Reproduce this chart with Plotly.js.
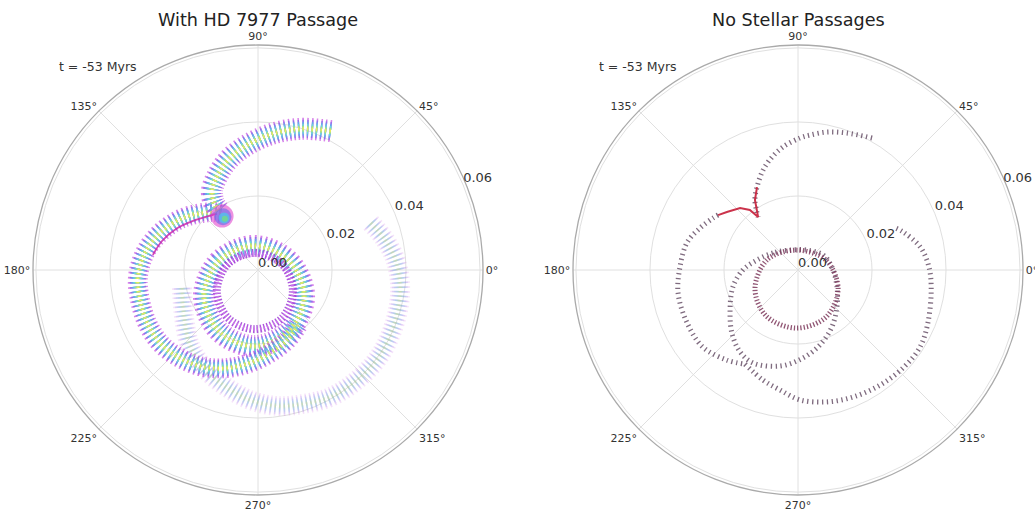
<!DOCTYPE html>
<html>
<head>
<meta charset="utf-8">
<script src="https://cdn.plot.ly/plotly-3.0.1.min.js"></script>
<style>html,body{margin:0;padding:0;background:#fff;}#chart{width:1035px;height:510px;}</style>
</head>
<body>
<div id="chart"></div>
<script>
// ---------- DATA ----------
const panelTitles = ['With HD 7977 Passage', 'No Stellar Passages'];
const timeLabel = 't = -53 Myrs';
const radialTicks = [0, 0.02, 0.04, 0.06];
const radialTickText = ['0.00', '0.02', '0.04', '0.06'];
const angularTicks = [0, 45, 90, 135, 180, 225, 270, 315];
const angularTickText = ['0°', '45°', '90°', '135°', '180°', '225°', '270°', '315°'];

// Left panel (with HD 7977 passage) – centre lines of the rainbow tracks
const rTopArcL  = [0.0424,0.0398,0.0370,0.0339,0.0312,0.0283,0.0249,0.0217,0.0184];
const thTopArcL = [62.3,73.4,84.1,95.0,104.0,111.9,119.9,123.3,123.0];
const rLoopL  = [0.0184,0.0203,0.0247,0.0283,0.0309,0.0325,0.0329,0.0332,0.0330,0.0318,0.0301,0.0278,0.0252,0.0227,0.0205,0.0184];
const thLoopL = [123.0,129.6,145.3,159.3,171.4,183.3,194.3,205.5,216.7,228.4,240.4,252.4,265.1,278.2,292.5,306.0];
const rFaintL  = [0.0211,0.0238,0.0274,0.0302,0.0326,0.0352,0.0371,0.0382,0.0395,0.0400,0.0402,0.0396,0.0388,0.0374,0.0353,0.0329];
const thFaintL = [193.3,213.0,227.8,241.1,254.1,266.5,278.0,288.6,299.6,312.0,325.1,339.2,352.0,363.3,373.3,383.2];
const rMidL  = [0.0066,0.0108,0.0162,0.0196,0.0206,0.0185,0.0143,0.0087,0.0066];
const thMidL = [99.5,167.0,205.7,237.4,267.0,296.9,330.5,376.2,459.5];
const rInL  = [0.0047,0.0083,0.0125,0.0153,0.0160,0.0145,0.0110,0.0067,0.0047];
const thInL = [100.0,168.7,207.1,238.0,267.1,296.6,329.0,374.0,460.0];
const rEdgeL  = [0.0188,0.0217,0.0248,0.0271,0.0287];
const thEdgeL = [126.2,141.6,153.4,163.2,171.9];
const rBlobL  = [0.0175,0.0172,0.0168,0.0165];
const thBlobL = [123.7,123.4,123.1,122.9];

// Right panel (no stellar passages)
const rTopArcR  = [0.0409,0.0393,0.0381,0.0366,0.0357,0.0335,0.0313,0.0286,0.0250,0.0222,0.0179];
const thTopArcR = [60.7,70.3,78.1,84.9,89.1,96.95,102.96,109.3,116.3,121.6,127.0];
const rLoopR  = [0.0262,0.0269,0.0288,0.0309,0.0319,0.0330,0.0332,0.0331,0.0310,0.0292];
const thLoopR = [145.5,148.5,156.8,166.3,178.5,190.9,205.5,219.0,231.7,240.6];
const rRedR  = [0.0250,0.0222,0.0179,0.0208,0.0229,0.0248,0.0262];
const thRedR = [116.3,121.6,127.0,128.7,133.1,140.8,145.5];
const rOuterR  = [0.0292,0.0312,0.0328,0.0351,0.0365,0.0374,0.0382,0.0388,0.0390,0.0379,0.0364,0.0354,0.0336,0.0302,0.0282];
const thOuterR = [240.6,252.3,261.5,270.9,282.4,293.4,305.5,317.0,327.7,337.8,351.4,361.3,370.7,379.9,384.4];
const rMidR  = [0.0058,0.0082,0.0114,0.0149,0.0182,0.0213,0.0247,0.0271,0.0279,0.0264,0.0238,0.0211,0.0179,0.0145,0.0115,0.0092,0.0079,0.0060,0.0058];
const thMidR = [111.8,145.8,166.3,180,194.7,210.5,223.7,234.7,244.2,259.4,273.3,286.3,300.8,316.5,336.4,365.0,391.0,423.4,471.8];
const rInR  = [0.0054,0.0088,0.0127,0.0151,0.0157,0.0148,0.0120,0.0080,0.0054];
const thInR = [95.7,162.1,203.8,235.2,268.0,300.8,334.6,379.7,455.7];

// ---------- STYLE ----------
const FONT = 'DejaVu Sans, Liberation Sans, sans-serif';
const RADIAL_LABEL_ANGLE = 22.5;
const rainbow = [
  {w:22, c:'rgba(200,80,225,0.75)'},
  {w:18, c:'rgba(120,110,235,0.75)'},
  {w:14, c:'rgba(90,185,240,0.8)'},
  {w:10, c:'rgba(110,228,210,0.85)'},
  {w:6,  c:'rgba(180,236,110,0.9)'},
  {w:3,  c:'rgba(240,234,90,0.95)'}
];
const traces = [];
function band(r, th, subplot, scale, opacity, dash) {
  rainbow.forEach(l => {
    traces.push({type:'scatterpolar', subplot, r, theta:th, mode:'lines',
      line:{shape:'spline', smoothing:1, width:l.w*scale, color:l.c, dash},
      opacity, hoverinfo:'skip', showlegend:false});
  });
}
function track(r, th, subplot, width, color, dash, shape) {
  traces.push({type:'scatterpolar', subplot, r, theta:th, mode:'lines',
    line:{shape:shape||'spline', smoothing:1, width, color, dash},
    hoverinfo:'skip', showlegend:false});
}
function radialLabels(subplot) {
  traces.push({type:'scatterpolar', subplot, r:radialTicks,
    theta:radialTicks.map(() => RADIAL_LABEL_ANGLE), mode:'text', text:radialTickText,
    textposition:'top right', textfont:{family:FONT, size:13, color:'#333'},
    hoverinfo:'skip', showlegend:false, cliponaxis:false});
}

// Left panel
const dL = '1.5px,3px';
band(rFaintL, thFaintL, 'polar', 0.9, 0.22, dL);
band(rMidL, thMidL, 'polar', 1.0, 0.95, dL);
track(rInL, thInL, 'polar', 8, 'rgba(160,60,215,0.85)', '1.5px,2px');
track(rInL, thInL, 'polar', 3, 'rgba(205,120,235,0.85)', '1.5px,2px');
band(rLoopL, thLoopL, 'polar', 0.9, 0.95, dL);
band(rTopArcL, thTopArcL, 'polar', 1.0, 0.95, dL);
track(rEdgeL, thEdgeL, 'polar', 1.8, 'rgba(205,40,170,0.85)', 'solid');
traces.push({type:'scatterpolar', subplot:'polar', r:rBlobL, theta:thBlobL, mode:'markers',
  marker:{size:[23,17,11,6], color:['rgba(225,70,205,0.85)','rgba(110,110,235,0.9)','rgba(70,205,235,1)','rgba(120,225,120,1)'], line:{width:0}},
  hoverinfo:'skip', showlegend:false});
radialLabels('polar');

// Right panel
const dark = 'rgba(95,70,95,0.8)';
const dR = '1.3px,3.6px';
track(rOuterR, thOuterR, 'polar2', 5, dark, dR);
track(rMidR, thMidR, 'polar2', 5, dark, dR);
track(rInR, thInR, 'polar2', 5, 'rgba(125,55,90,0.85)', '1.3px,2px');
track(rLoopR, thLoopR, 'polar2', 5, dark, dR);
track(rTopArcR, thTopArcR, 'polar2', 5, dark, dR);
track(rRedR, thRedR, 'polar2', 2, 'rgba(200,40,65,0.95)', 'solid', 'linear');
radialLabels('polar2');

function polarLayout(dx) {
  return {
    domain:{x:dx, y:[15/510, 465/510]},
    bgcolor:'rgba(0,0,0,0)',
    radialaxis:{range:[0,0.0608], tickmode:'array', tickvals:radialTicks,
      showticklabels:false, showline:false, ticks:'', gridcolor:'#e0e0e0', gridwidth:1,
      layer:'below traces'},
    angularaxis:{tickmode:'array', tickvals:angularTicks, ticktext:angularTickText,
      direction:'counterclockwise', rotation:0, showline:true, linecolor:'#aaaaaa', linewidth:1.3,
      gridcolor:'#e0e0e0', gridwidth:1, ticks:'', tickfont:{family:FONT, size:11, color:'#333'}, layer:'below traces'}
  };
}

const layout = {
  width:1035, height:510, margin:{l:0,r:0,t:0,b:0},
  paper_bgcolor:'#fff', showlegend:false,
  polar: polarLayout([33/1035, 483/1035]),
  polar2: polarLayout([573/1035, 1023/1035]),
  annotations:[
    {text:panelTitles[0], x:258/1035, y:1-20/510, xref:'paper', yref:'paper', xanchor:'center', yanchor:'middle', showarrow:false, font:{family:FONT, size:17.6, color:'#222'}},
    {text:panelTitles[1], x:798/1035, y:1-20/510, xref:'paper', yref:'paper', xanchor:'center', yanchor:'middle', showarrow:false, font:{family:FONT, size:17.6, color:'#222'}},
    {text:timeLabel, x:57/1035, y:1-67/510, xref:'paper', yref:'paper', xanchor:'left', yanchor:'middle', showarrow:false, font:{family:FONT, size:12.5, color:'#333'}},
    {text:timeLabel, x:597/1035, y:1-67/510, xref:'paper', yref:'paper', xanchor:'left', yanchor:'middle', showarrow:false, font:{family:FONT, size:12.5, color:'#333'}}
  ]
};
Plotly.newPlot('chart', traces, layout, {staticPlot:true, displayModeBar:false});
</script>
</body>
</html>
